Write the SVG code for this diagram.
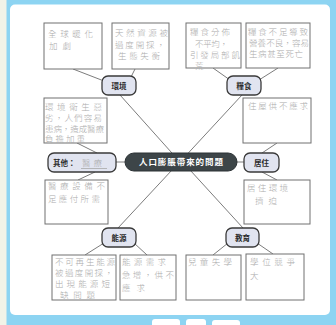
<svg xmlns="http://www.w3.org/2000/svg" width="336" height="325" viewBox="0 0 336 325">
<style>
.box{fill:#fff;stroke:#707070;stroke-width:1}
.node{fill:#e1e4f0;stroke:#3a3a3a;stroke-width:1.3}
.conn{stroke:#5a5a5a;stroke-width:0.8;fill:none}
.hw{font-family:"Noto Sans CJK TC","Noto Sans CJK SC",sans-serif;font-size:8.5px;font-weight:300;fill:#ababab}
.lbl{font-family:"Noto Sans CJK TC","Noto Sans CJK SC",sans-serif;font-size:7.5px;font-weight:700;fill:#2a2a2a;text-anchor:middle}
.ctr{font-family:"Noto Sans CJK TC","Noto Sans CJK SC",sans-serif;font-size:8.5px;font-weight:700;fill:#fff;text-anchor:middle}
</style>
<rect x="0" y="0" width="336" height="325" fill="#f2f3e8"/>
<rect x="6.5" y="-8" width="340" height="345" rx="6" fill="#8dd4f2"/>
<rect x="10" y="4.5" width="320" height="310.5" rx="5" fill="#fff"/>
<g fill="#fff">
<rect x="152" y="319" width="28" height="8" rx="3"/>
<rect x="186" y="319" width="20" height="8" rx="3"/>
<rect x="212" y="320" width="28" height="7" rx="3"/>
</g>
<g id="connectors" class="conn">
<line x1="73" y1="69" x2="104" y2="81"/>
<line x1="135" y1="69" x2="131" y2="77"/>
<line x1="213" y1="68" x2="230" y2="80"/>
<line x1="278" y1="68" x2="259" y2="80"/>
<line x1="120" y1="95" x2="180" y2="162"/>
<line x1="242" y1="95" x2="180" y2="162"/>
<line x1="277" y1="143" x2="262" y2="153"/>
<line x1="262" y1="172" x2="277" y2="180"/>
<line x1="235" y1="162" x2="244" y2="162"/>
<line x1="77" y1="143" x2="97" y2="153"/>
<line x1="95" y1="172" x2="78" y2="180"/>
<line x1="116" y1="162" x2="125" y2="162"/>
<line x1="118" y1="228" x2="172" y2="170"/>
<line x1="243" y1="228" x2="190" y2="170"/>
<line x1="104" y1="243" x2="85" y2="255"/>
<line x1="134" y1="243" x2="147" y2="255"/>
<line x1="228" y1="243" x2="213" y2="255"/>
<line x1="257" y1="243" x2="273" y2="254"/>
</g>
<g id="box-env1"><rect class="box" x="44" y="23" width="58" height="46"/>
<text class="hw" x="48" y="37" textLength="45">全球暖化</text>
<text class="hw" x="49" y="49" textLength="22">加劇</text></g>
<g id="box-env2"><rect class="box" x="112" y="23" width="57" height="46"/>
<text class="hw" x="115" y="36" textLength="53">天然資源被</text>
<text class="hw" x="115" y="47.5" textLength="50">過度開採，</text>
<text class="hw" x="118" y="59" textLength="42">生態失衡</text></g>
<g id="box-food1"><rect class="box" x="186" y="23" width="55" height="45"/>
<text class="hw" x="190" y="35" textLength="40">糧食分佈</text>
<text class="hw" x="195" y="46.5" textLength="33">不平均，</text>
<text class="hw" x="190" y="58" textLength="50">引發局部飢</text>
<text class="hw" x="195" y="68.5">荒</text></g>
<g id="box-food2"><rect class="box" x="246" y="23" width="64" height="45"/>
<text class="hw" x="248" y="35" textLength="60">糧食不足導致</text>
<text class="hw" x="249" y="46" textLength="60">營養不良，容易</text>
<text class="hw" x="249" y="57" textLength="54">生病甚至死亡</text></g>
<g id="box-house1"><rect class="box" x="243" y="98" width="68" height="45"/>
<text class="hw" x="248" y="109" textLength="60">住屋供不應求</text></g>
<g id="box-house2"><rect class="box" x="244" y="180" width="66" height="44"/>
<text class="hw" x="247" y="191" textLength="41">居住環境</text>
<text class="hw" x="255" y="204" textLength="22">擠迫</text></g>
<g id="box-other1"><rect class="box" x="44" y="98" width="63" height="45"/>
<text class="hw" x="45" y="109.5" textLength="57">環境衛生惡</text>
<text class="hw" x="45" y="120.5" textLength="57">劣，人們容易</text>
<text class="hw" x="45" y="131.5" textLength="59">患病，造成醫療</text>
<text class="hw" x="45" y="142" textLength="40">負擔加重</text></g>
<g id="box-other2"><rect class="box" x="45" y="180" width="63" height="44"/>
<text class="hw" x="48" y="189" textLength="57">醫療設備不</text>
<text class="hw" x="48" y="202" textLength="52">足應付所需</text></g>
<g id="box-energy1"><rect class="box" x="52" y="255" width="64" height="45"/>
<text class="hw" x="55" y="265" textLength="60">不可再生能源</text>
<text class="hw" x="55" y="276" textLength="58">被過度開採，</text>
<text class="hw" x="55" y="287" textLength="55">出現能源短</text>
<text class="hw" x="60" y="297.5" textLength="35">缺問題</text></g>
<g id="box-energy2"><rect class="box" x="120" y="255" width="56" height="45"/>
<text class="hw" x="122" y="265" textLength="44">能源需求</text>
<text class="hw" x="122" y="278" textLength="52">急增，供不</text>
<text class="hw" x="122" y="291" textLength="23">應求</text></g>
<g id="box-edu1"><rect class="box" x="186" y="255" width="55" height="45"/>
<text class="hw" x="188" y="265" textLength="44">兒童失學</text></g>
<g id="box-edu2"><rect class="box" x="246" y="254" width="58" height="46"/>
<text class="hw" x="250" y="265" textLength="45">學位競爭</text>
<text class="hw" x="250" y="279">大</text></g>
<g id="node-env"><rect class="node" x="102" y="76" width="34" height="19" rx="6"/>
<text class="lbl" x="119" y="88.5">環境</text></g>
<g id="node-food"><rect class="node" x="227" y="76" width="34" height="19" rx="6"/>
<text class="lbl" x="244" y="88.5">糧食</text></g>
<g id="node-house"><rect class="node" x="244" y="153" width="35" height="19" rx="6"/>
<text class="lbl" x="261.5" y="165.5">居住</text></g>
<g id="node-other"><rect class="node" x="48" y="153" width="68" height="19" rx="6"/>
<text class="lbl" x="53" y="165.5" style="text-anchor:start">其他：</text>
<text class="hw" x="82" y="166" textLength="20">醫療</text>
<line x1="81" y1="168.5" x2="107" y2="168.5" stroke="#a8a8a8" stroke-width="0.8"/></g>
<g id="node-energy"><rect class="node" x="102" y="228" width="34" height="19" rx="6"/>
<text class="lbl" x="119" y="240.5">能源</text></g>
<g id="node-edu"><rect class="node" x="226" y="228" width="33" height="19" rx="6"/>
<text class="lbl" x="242.5" y="240.5">教育</text></g>
<g id="node-center"><rect x="125" y="153" width="112" height="18" rx="9" fill="#3d4548" stroke="#2c3235" stroke-width="1"/>
<text class="ctr" x="181" y="165" textLength="84">人口膨脹帶來的問題</text></g>
</svg>
